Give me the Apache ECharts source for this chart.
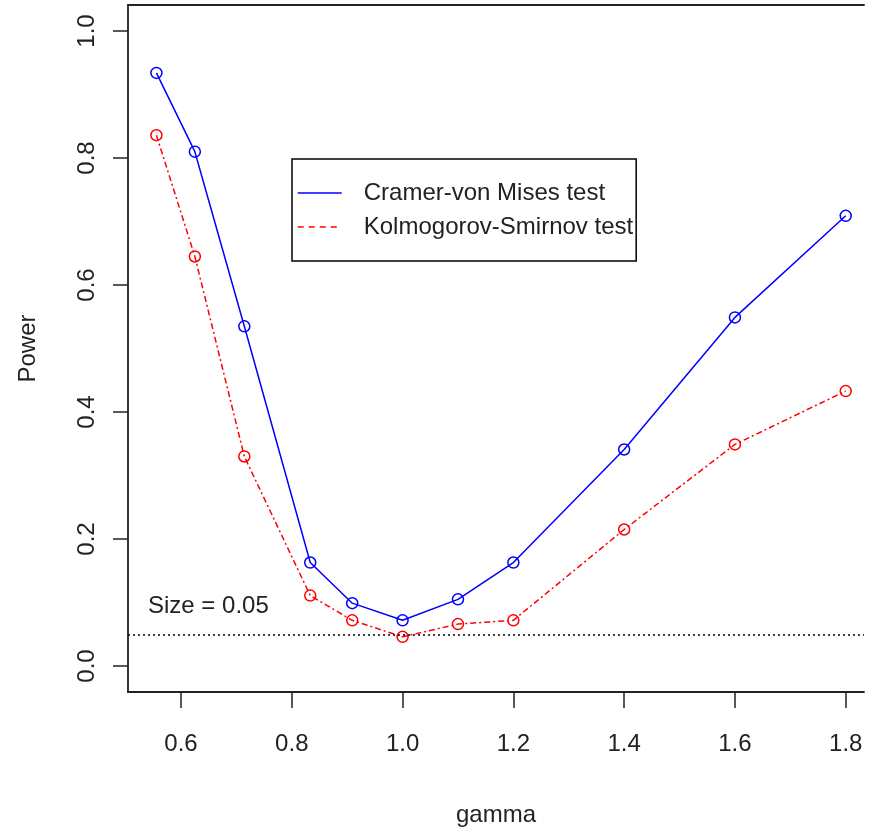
<!DOCTYPE html>
<html>
<head>
<meta charset="utf-8">
<script src="https://cdn.jsdelivr.net/npm/echarts@6/dist/echarts.min.js"></script>
<style>
	html, body { margin: 0; padding: 0; background: #fff; }
	#chart { width: 877px; height: 833px; }
</style>
</head>
<body>
<div id="chart"></div>
<script>
// data
var gamma = [0.5556, 0.625, 0.7143, 0.8333, 0.9091, 1.0, 1.1, 1.2, 1.4, 1.6, 1.8];
var cvmPower = [0.934, 0.810, 0.535, 0.163, 0.099, 0.072, 0.105, 0.163, 0.341, 0.549, 0.709];
var ksPower = [0.836, 0.645, 0.330, 0.111, 0.072, 0.046, 0.066, 0.072, 0.215, 0.349, 0.433];
var xTicks = [0.6, 0.8, 1.0, 1.2, 1.4, 1.6, 1.8];
var yTicks = [0.0, 0.2, 0.4, 0.6, 0.8, 1.0];
var sizeLevel = 0.05;

var FONT = "'Liberation Sans', Arial, sans-serif";
var FS = 24;
var INK = '#222';

var toPairs = function (xs, ys) {
	var out = [];
	for (var i = 0; i < xs.length; i++) {
		out.push([xs[i], ys[i]]);
	}
	return out;
};

var chart = echarts.init(document.getElementById('chart'), null, { renderer: 'canvas' });

var option = {
	backgroundColor: '#fff',
	animation: false,
	textStyle: { fontFamily: FONT },
	grid: { left: 128, right: 13, top: 5, bottom: 141 },
	legend: {
		orient: 'vertical',
		left: 292,
		top: 159,
		padding: [17, 3, 17, 5],
		itemGap: 0,
		itemWidth: 44,
		itemHeight: 14,
		borderColor: '#000',
		borderWidth: 1.5,
		backgroundColor: '#fff',
		itemStyle: { opacity: 0 },
		textStyle: { fontFamily: FONT, fontSize: FS, color: INK, lineHeight: 34, padding: [0, 0, 0, 17] },
		data: [
			{ name: 'Cramer-von Mises test', lineStyle: { color: '#0000ff', width: 1.5, type: 'solid' } },
			{ name: 'Kolmogorov-Smirnov test', lineStyle: { color: '#ff0000', width: 1.5, type: [6, 5] } }
		]
	},
	xAxis: [
		{
			type: 'value',
			min: 0.5043,
			max: 1.833,
			name: 'gamma',
			nameLocation: 'middle',
			nameGap: 111,
			nameTextStyle: { fontFamily: FONT, fontSize: FS, color: INK },
			splitLine: { show: false },
			axisLine: { show: true, onZero: false, lineStyle: { color: INK, width: 1.8 } },
			axisTick: { show: true, length: 16, lineStyle: { color: INK, width: 1.5 }, customValues: xTicks },
			axisLabel: {
				fontFamily: FONT, fontSize: FS, color: INK, margin: 40,
				customValues: xTicks,
				formatter: function (v) { return v.toFixed(1); }
			}
		},
		{
			// top edge of the plot box
			type: 'value',
			position: 'top',
			min: 0.5043,
			max: 1.833,
			splitLine: { show: false },
			axisLine: { show: true, onZero: false, lineStyle: { color: INK, width: 1.8 } },
			axisTick: { show: false },
			axisLabel: { show: false }
		}
	],
	yAxis: {
		type: 'value',
		min: -0.0409,
		max: 1.041,
		name: 'Power',
		nameLocation: 'middle',
		nameRotate: 90,
		nameGap: 88,
		nameTextStyle: { fontFamily: FONT, fontSize: FS, color: INK },
		splitLine: { show: false },
		axisLine: { show: true, onZero: false, lineStyle: { color: INK, width: 1.8 } },
		axisTick: { show: true, length: 15, lineStyle: { color: INK, width: 1.5 }, customValues: yTicks },
		axisLabel: {
			fontFamily: FONT, fontSize: FS, color: INK, margin: 29, rotate: 90,
			customValues: yTicks,
			formatter: function (v) { return v.toFixed(1); }
		}
	},
	series: [
		{
			name: 'Cramer-von Mises test',
			type: 'line',
			data: toPairs(gamma, cvmPower),
			symbol: 'circle',
			symbolSize: 11,
			itemStyle: { color: 'rgba(0,0,0,0)', borderColor: '#0000ff', borderWidth: 1.5 },
			lineStyle: { color: '#0000ff', width: 1.5, type: 'solid' },
			markLine: {
				silent: true,
				symbol: 'none',
				lineStyle: { color: '#000', width: 1.5, type: [2, 3] },
				label: {
					show: true,
					position: 'insideStartTop',
					distance: [20, 16],
					formatter: 'Size = ' + sizeLevel.toFixed(2),
					fontFamily: FONT, fontSize: FS, color: INK
				},
				data: [{ yAxis: sizeLevel }]
			}
		},
		{
			name: 'Kolmogorov-Smirnov test',
			type: 'line',
			data: toPairs(gamma, ksPower),
			symbol: 'circle',
			symbolSize: 11,
			itemStyle: { color: 'rgba(0,0,0,0)', borderColor: '#ff0000', borderWidth: 1.5 },
			lineStyle: { color: '#ff0000', width: 1.5, type: [6, 3, 2, 3] }
		}
	]
};

chart.setOption(option);
</script>
</body>
</html>
